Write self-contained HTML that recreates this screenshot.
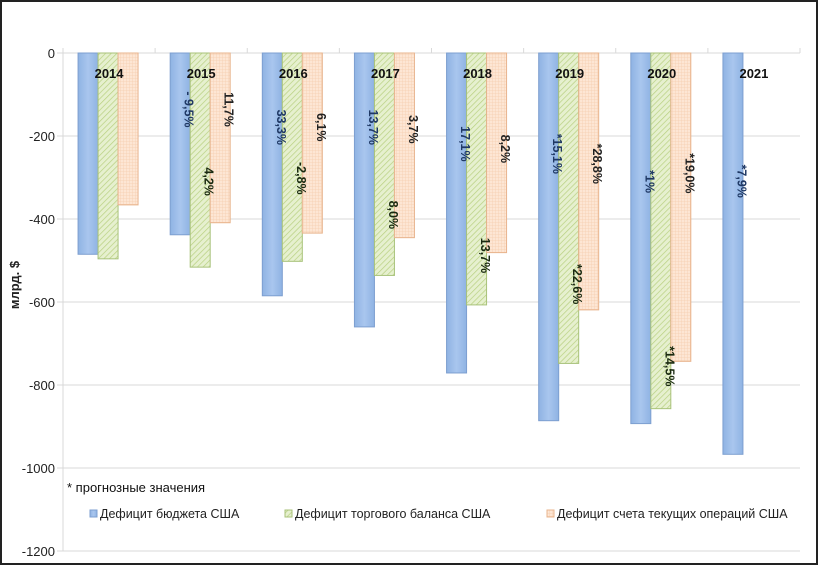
<!DOCTYPE html>
<html><head><meta charset="utf-8">
<style>
html,body{margin:0;padding:0;background:#fff;}
#wrap{position:relative;width:818px;height:565px;box-sizing:border-box;border:2px solid #222;background:#fff;overflow:hidden;font-family:"Liberation Sans",sans-serif;}
svg{position:absolute;left:-2px;top:-2px;}
</style></head>
<body>
<div id="wrap">
<svg id="chart" width="818" height="565">
<defs>
<pattern id="hatchG" patternUnits="userSpaceOnUse" width="4" height="4" patternTransform="rotate(45)">
<rect width="4" height="4" fill="#e6f0cf"/><line x1="0" y1="0" x2="0" y2="4" stroke="#b8d080" stroke-width="1.4"/>
</pattern>
<pattern id="gridO" patternUnits="userSpaceOnUse" width="3" height="3">
<rect width="3" height="3" fill="#fde6d4"/><path d="M0 0H3M0 0V3" stroke="#f6cfb0" stroke-width="0.8"/>
</pattern>
<linearGradient id="gradB" x1="0" x2="1" y1="0" y2="0">
<stop offset="0" stop-color="#8fb3e3"/><stop offset="0.5" stop-color="#a9c6ee"/><stop offset="1" stop-color="#8fb3e3"/>
</linearGradient>
</defs>
</svg>
</div>
<script>
const years = ["2014","2015","2016","2017","2018","2019","2020","2021"];
const budget = [-485,-438,-585,-660,-771,-886,-893,-967];
const trade = [-496,-516,-502,-536,-607,-748,-857,null];
const current = [-366,-409,-434,-445,-481,-619,-743,null];
const budgetLabels = ["","- 9,5%","33,3%","13,7%","17,1%","*15,1%","*1%","*7,9%"];
const tradeLabels = ["","4,2%","-2,8%","8,0%","13,7%","*22,6%","*14,5%",""];
const currentLabels = ["","11,7%","6,1%","3,7%","8,2%","*28,8%","*19,0%",""];
const budgetLabelVal = [0,-136,-179,-179,-219,-243,-310,-309];
const tradeLabelVal = [0,-310,-302,-390,-488,-557,-755,0];
const currentLabelVal = [0,-136,-179,-184,-231,-267,-290,0];
const yTicks = [0,-200,-400,-600,-800,-1000,-1200];

const svg = document.getElementById('chart');
const NS = 'http://www.w3.org/2000/svg';
const X0 = 63, X1 = 800, Y0 = 53, PX = 0.415;
const gw = (X1 - X0) / years.length;
const y = v => Y0 - v * PX;
const gx = i => X0 + gw * (i + 0.5);
function mk(tag, attrs){const e=document.createElementNS(NS,tag);for(const k in attrs)e.setAttribute(k,attrs[k]);svg.appendChild(e);return e;}

yTicks.forEach((t,i)=>{
  const g = mk('line',{x1:X0-6,x2:X1,y1:y(t),y2:y(t),stroke:'#d9d9d9','stroke-width':1});
  
  
  const tx = mk('text',{x:55,y:y(t)+5,'text-anchor':'end','font-size':13,fill:'#222'});
  tx.textContent = t;
  
  
});
const ax = mk('line',{x1:X0,x2:X0,y1:Y0,y2:y(-1200),stroke:'#d9d9d9','stroke-width':1});


for(let i=0;i<=years.length;i++){
  const t = mk('line',{x1:X0+gw*i,x2:X0+gw*i,y1:Y0-5,y2:Y0,stroke:'#d9d9d9'});
  
  
}

const yl = mk('text',{x:0,y:0,'font-size':13,'font-weight':'bold',fill:'#222','text-anchor':'middle',transform:'translate(19,285) rotate(-90)'});
yl.textContent = 'млрд. $';



const series = [
 {vals:budget,labels:budgetLabels,lv:budgetLabelVal,fill:'url(#gradB)',stroke:'#7d9fd0',tc:'#1f3864',off:-31,name:'budget'},
 {vals:trade,labels:tradeLabels,lv:tradeLabelVal,fill:'url(#hatchG)',stroke:'#a8c27a',tc:'#1a2a10',off:-11,name:'trade'},
 {vals:current,labels:currentLabels,lv:currentLabelVal,fill:'url(#gridO)',stroke:'#e8b48e',tc:'#222',off:9,name:'current'}
];
series.forEach(s=>{
  s.vals.forEach((v,i)=>{
    if(v===null) return;
    const bx = gx(i)+s.off;
    const r = mk('rect',{x:bx,y:Y0,width:20,height:y(v)-Y0,fill:s.fill,stroke:s.stroke,'stroke-width':1});
    
    
  });
});
years.forEach((yr,i)=>{
  const t = mk('text',{x:gx(i),y:78,'text-anchor':'middle','font-size':13,'font-weight':'bold',fill:'#111'});
  t.textContent = yr;
  
  
});
series.forEach(s=>{
  s.labels.forEach((lab,i)=>{
    if(!lab) return;
    const cx = gx(i)+s.off+10, cy = y(s.lv[i]);
    const t = mk('text',{x:0,y:0,'text-anchor':'middle','font-size':12.5,'font-weight':'bold',fill:s.tc,transform:`translate(${cx+4.5},${cy}) rotate(90)`});
    t.textContent = lab;
    
    
  });
});

const fn = mk('text',{x:67,y:492,'font-size':13,fill:'#111'});
fn.textContent = '* прогнозные значения';



const legendItems = [
 {x:90,fill:'url(#gradB)',st:'#7d9fd0',text:'Дефицит бюджета США'},
 {x:285,fill:'url(#hatchG)',st:'#a8c27a',text:'Дефицит торгового баланса США'},
 {x:547,fill:'url(#gridO)',st:'#e8b48e',text:'Дефицит счета текущих операций США'}
];
legendItems.forEach((l,i)=>{
  const r = mk('rect',{x:l.x,y:510,width:7,height:7,fill:l.fill,stroke:l.st});
  
  
  const t = mk('text',{x:l.x+10,y:518,'font-size':12.5,fill:'#222'});
  t.textContent = l.text;
  
  
});
</script>
</body></html>
